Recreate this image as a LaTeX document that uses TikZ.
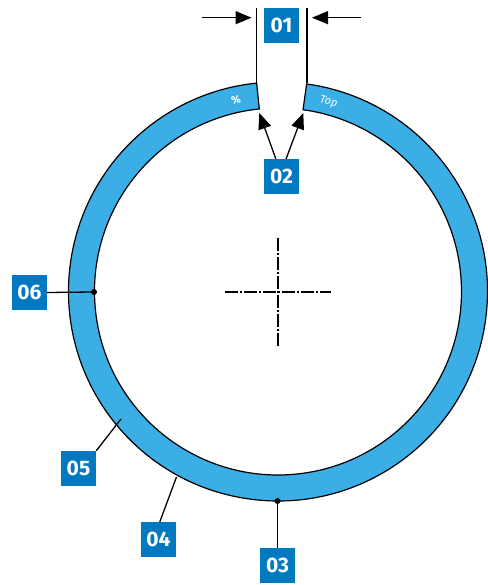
\documentclass[tikz,border=0pt]{standalone}
\usepackage{fontspec}
\setsansfont{Fira Sans}
\usetikzlibrary{arrows.meta}
\definecolor{boxblue}{HTML}{0079C1}
\definecolor{ringblue}{HTML}{3BAEE6}
\tikzset{
  x=1pt,y=1pt,
  tag/.style={fill=boxblue,text=white,minimum size=35pt,inner sep=0pt,font=\sffamily\bfseries\fontsize{21}{21}\selectfont},
  ringline/.style={draw=black,line width=1.2pt,fill=ringblue},
  leader/.style={draw=black,line width=1.3pt},
  dimarrow/.style={draw=black,line width=1.3pt,-{Triangle[length=16pt,width=13pt]}},
  centreline/.style={draw=black,line width=1.2pt,dash pattern=on 13pt off 2pt on 2pt off 2pt},
  ringtext/.style={text=white,font=\sffamily\fontsize{11}{11}\selectfont},
  pin/.style={circle,fill=black,inner sep=0pt,minimum size=6pt}
}
\begin{document}
\begin{tikzpicture}
\useasboundingbox (0,0) rectangle (487,585);
\coordinate (c) at (278,293.5);
% ring
\path[ringline] (c) ++(82.15:209.5) arc[start angle=82.15,end angle=-264.15,radius=209.5]
  -- ([shift={(95.85:183.5)}]c) arc[start angle=-264.15,end angle=82.15,radius=183.5] -- cycle;
% centre lines
\coordinate (hl) at (225,293); \coordinate (hr) at (331,293);
\coordinate (vt) at (278,347);   \coordinate (vb) at (278,238);
\draw[centreline] (hl) -- (hr);
\draw[centreline] (vt) -- (vb);
% tags
\node[tag] (t01) at (281.5,559.5) {01};
\node[tag] (t02) at (281.5,408.5) {02};
\node[tag] (t03) at (277.5,19.5) {03};
\node[tag] (t04) at (158.5,45.5) {04};
\node[tag] (t05) at (78.5,116.5) {05};
\node[tag] (t06) at (29.5,292.5) {06};
% gap limit lines
\coordinate (la) at (256.3,577); \coordinate (lb) at (256.3,502);
\coordinate (ra) at (307,577);   \coordinate (rb) at (307,502);
\draw[leader] (la) -- (lb);
\draw[leader] (ra) -- (rb);
% dimension arrows
\coordinate (dl0) at (202,567.3); \coordinate (dl1) at (251.5,567.3);
\coordinate (dr0) at (361,567.3); \coordinate (dr1) at (312,567.3);
\draw[dimarrow] (dl0) -- (dl1);
\draw[dimarrow] (dr0) -- (dr1);
% 02 arrows
\coordinate (g1) at (259.3,472); \coordinate (g2) at (303.3,472);
\draw[dimarrow] (t02.north west) ++(12,0) -- (g1);
\draw[dimarrow] (t02.north west) ++(22.3,0) -- (g2);
% leaders
\node[pin] (p03) at (277.5,84) {};
\draw[leader] (t03.north) -- (p03.center);
\coordinate (p04) at (176.5,108);
\draw[leader] (t04.north west) ++(19,0) -- (p04);
\coordinate (p05) at (121,166);
\draw[leader] (t05.north east) -- (p05);
\node[pin] (p06) at (94,293) {};
\draw[leader] (t06.east) -- (p06.center);
% ring lettering
\node[ringtext,rotate=-14] (top) at (328.5,483) {\itshape Top};
\node[ringtext,rotate=12] (pct) at (236,485.5) {\bfseries\%};
\end{tikzpicture}
\end{document}
